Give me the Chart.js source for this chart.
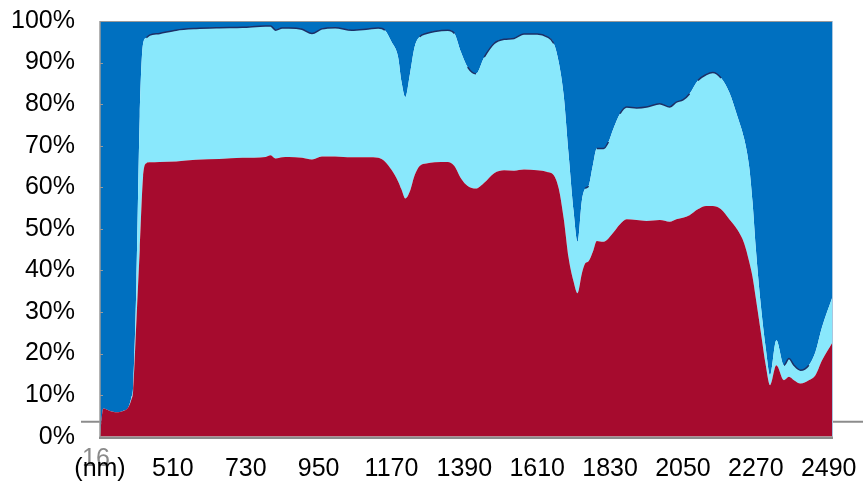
<!DOCTYPE html>
<html>
<head>
<meta charset="utf-8">
<script src="https://cdn.jsdelivr.net/npm/chart.js@4.4.1/dist/chart.umd.min.js"></script>
<style>
  html, body { margin: 0; padding: 0; background: #ffffff; }
  canvas { display: block; }
</style>
</head>
<body>
<canvas id="chart" width="863" height="483"></canvas>
<script>
// Wavelength samples (nm)
const wavelengths = [
  290, 300, 320, 340, 360, 375, 385, 390, 400, 410, 420, 430, 440, 470, 520, 580, 650, 720, 790, 805,
  820, 840, 860, 900, 930, 960, 1000, 1050, 1100, 1130, 1150, 1170, 1190, 1200, 1212, 1225, 1240, 1255, 1275, 1300,
  1340, 1360, 1380, 1400, 1425, 1450, 1480, 1510, 1540, 1570, 1610, 1640, 1660, 1675, 1690, 1705, 1720, 1732, 1745, 1755,
  1765, 1778, 1790, 1810, 1825, 1840, 1860, 1880, 1910, 1940, 1980, 2010, 2030, 2050, 2070, 2095, 2120, 2140, 2165, 2190,
  2215, 2235, 2250, 2260, 2270, 2285, 2300, 2313, 2332, 2355, 2370, 2385, 2405, 2430, 2450, 2470, 2500
];

// Share of each band (%), bottom to top
const band1 = [
  0, 6.8, 6.2, 5.9, 6.2, 7.0, 9.0, 11, 28, 45, 62.5, 65.8, 66.0, 66.1, 66.2, 66.6, 66.8, 67.1, 67.3, 67.7,
  66.9, 67.2, 67.3, 67.1, 66.7, 67.4, 67.4, 67.2, 67.2, 67.1, 66.2, 64.2, 61.4, 59.5, 57.3, 58.9, 62.9, 65.1, 65.7, 66.0,
  66.1, 65.1, 62.1, 60.3, 59.7, 61.1, 63.4, 64.1, 64.0, 64.3, 64.1, 63.7, 62.9, 59.7, 52.5, 42.9, 37.3, 34.5, 39.3, 41.7,
  42.2, 44.5, 47.1, 46.9, 47.7, 49.1, 51.1, 52.3, 52.1, 51.9, 52.1, 51.7, 52.3, 52.7, 53.3, 54.7, 55.5, 55.5, 54.7, 52.3,
  49.7, 46.5, 42.1, 38.5, 33.3, 25.2, 17.2, 12.4, 17.2, 13.6, 14.4, 13.6, 12.8, 13.6, 14.8, 18.4, 22.5
];
const band2 = [
  0, 0, 0, 0, 0, 0, 0.5, 1, 9, 32, 32, 30.2, 30.6, 30.9, 31.6, 31.6, 31.6, 31.4, 31.5, 31.1,
  30.9, 31.1, 31.0, 30.9, 30.3, 30.7, 31.0, 30.6, 30.9, 31.2, 31.6, 30.8, 29.9, 26.0, 24.4, 28.0, 30.9, 31.1, 31.3, 31.5,
  31.7, 31.9, 30.4, 28.6, 27.6, 30.2, 31.2, 31.5, 31.8, 32.6, 32.8, 32.5, 31.7, 30.4, 29.6, 24.8, 16.8, 12.4, 17.6, 18.0,
  18.1, 20.8, 22.2, 22.4, 23.2, 25.0, 26.6, 27.0, 27.0, 27.4, 28.0, 27.6, 28.2, 28.3, 29.2, 31.0, 31.6, 32.1, 31.6, 30.5,
  27.2, 25.1, 22.8, 18.0, 12.0, 6.5, 4.1, 2.4, 6.0, 3.6, 4.4, 3.6, 3.2, 3.6, 5.6, 8.0, 10.8
];
const band3 = [
  100, 93.2, 93.8, 94.1, 93.8, 93.0, 90.5, 88, 63, 23, 5.5, 4.0, 3.4, 3.0, 2.2, 1.8, 1.6, 1.5, 1.2, 1.2,
  2.2, 1.7, 1.7, 2.0, 3.0, 1.9, 1.6, 2.2, 1.9, 1.7, 2.2, 5.0, 8.7, 14.5, 18.3, 13.1, 6.2, 3.8, 3.0, 2.5,
  2.2, 3.0, 7.5, 11.1, 12.7, 8.7, 5.4, 4.4, 4.2, 3.1, 3.1, 3.8, 5.4, 9.9, 17.9, 32.3, 45.9, 53.1, 43.1, 40.3,
  39.7, 34.7, 30.7, 30.7, 29.1, 25.9, 22.3, 20.7, 20.9, 20.7, 19.9, 20.7, 19.5, 19.0, 17.5, 14.3, 12.9, 12.4, 13.7, 17.2,
  23.1, 28.4, 35.1, 43.5, 54.7, 68.3, 78.7, 85.2, 76.8, 82.8, 81.2, 82.8, 84.0, 82.8, 79.6, 73.6, 66.7
];

// Axis ticks
const xTickValues = [290, 510, 730, 950, 1170, 1390, 1610, 1830, 2050, 2270, 2490];
const xTickLabels = ['(nm)', '510', '730', '950', '1170', '1390', '1610', '1830', '2050', '2270', '2490'];
const yTickValues = [0, 10, 20, 30, 40, 50, 60, 70, 80, 90, 100];

const toPoints = arr => wavelengths.map((w, i) => ({ x: w, y: arr[i] }));
// upper edge of the middle band, used for its thin outline
const middleEdge = wavelengths.map((w, i) => ({ x: w, y: band1[i] + band2[i] }));

const FONT = { family: '"Liberation Sans", Arial, sans-serif', size: 25 };
const NAVY = '#1c2f66';

const noScalePadding = s => { s.paddingTop = 0; s.paddingBottom = 0; s.paddingLeft = 0; s.paddingRight = 0; };

// Axis frame, the stray baseline, small inner ticks and the overlapping "16" caption
const framePlugin = {
  id: 'frame',
  beforeDraw(chart) {
    const ctx = chart.ctx;
    ctx.save();
    ctx.font = '25px "Liberation Sans", Arial, sans-serif';
    ctx.fillStyle = '#8a8a8a';
    ctx.textAlign = 'center';
    ctx.textBaseline = 'middle';
    ctx.fillText('16', 96, 459);
    ctx.restore();
  },
  beforeDatasetsDraw(chart) {
    const ctx = chart.ctx;
    const y = chart.scales.y.getPixelForValue(3.6);
    ctx.save();
    ctx.strokeStyle = '#8c8c8c';
    ctx.lineWidth = 2;
    ctx.beginPath();
    ctx.moveTo(81, y);
    ctx.lineTo(863, y);
    ctx.stroke();
    ctx.restore();
  },
  afterDatasetsDraw(chart) {
    const { ctx, chartArea: a } = chart;
    const ys = chart.scales.y;
    ctx.save();
    ctx.strokeStyle = '#9a9a9a';
    ctx.lineWidth = 1;
    ctx.beginPath();
    ctx.moveTo(a.left, a.top + 0.5);
    ctx.lineTo(a.right, a.top + 0.5);
    ctx.stroke();
    ctx.strokeStyle = '#a9c6df';
    ctx.beginPath();
    ctx.moveTo(a.right + 0.5, a.top);
    ctx.lineTo(a.right + 0.5, a.bottom);
    ctx.stroke();
    ctx.strokeStyle = '#9a9a9a';
    ctx.lineWidth = 1.5;
    ctx.beginPath();
    ctx.moveTo(a.left, a.top);
    ctx.lineTo(a.left, a.bottom);
    ctx.stroke();
    ctx.lineWidth = 1;
    yTickValues.forEach(v => {
      const py = Math.round(ys.getPixelForValue(v)) + 0.5;
      ctx.beginPath();
      ctx.moveTo(a.left, py);
      ctx.lineTo(a.left + 3, py);
      ctx.stroke();
    });
    ctx.strokeStyle = '#8c8c8c';
    ctx.lineWidth = 2.5;
    ctx.beginPath();
    ctx.moveTo(a.left - 1, a.bottom + 1);
    ctx.lineTo(a.right + 1, a.bottom + 1);
    ctx.stroke();
    ctx.restore();
  }
};

new Chart(document.getElementById('chart'), {
  type: 'line',
  data: {
    datasets: [
      {
        label: 'Band 1',
        data: toPoints(band1),
        backgroundColor: '#a60b2e',
        borderWidth: 0,
        fill: 'origin',
        pointRadius: 0,
        cubicInterpolationMode: 'monotone'
      },
      {
        label: 'Band 2',
        data: toPoints(band2),
        backgroundColor: '#89e8fc',
        borderWidth: 0,
        fill: '-1',
        pointRadius: 0,
        cubicInterpolationMode: 'monotone'
      },
      {
        label: 'Band 3',
        data: toPoints(band3),
        backgroundColor: '#0070c0',
        borderWidth: 0,
        fill: '-1',
        pointRadius: 0,
        cubicInterpolationMode: 'monotone'
      },
      {
        label: 'Band 2 edge',
        stack: 'edge',
        order: -1,
        data: middleEdge,
        fill: false,
        borderColor: NAVY,
        borderWidth: 1.5,
        pointRadius: 0,
        cubicInterpolationMode: 'monotone',
        segment: {
          borderColor: c => {
            const dx = Math.abs(c.p1.x - c.p0.x) || 0.001;
            const dy = Math.abs(c.p1.y - c.p0.y);
            if (band2[c.p0DataIndex] < 1 || dy / dx > 1.6) return 'rgba(0,0,0,0)';
            return NAVY;
          }
        }
      }
    ]
  },
  options: {
    responsive: false,
    animation: false,
    events: [],
    layout: { padding: { top: 21, right: 31, bottom: 0, left: 0 } },
    plugins: { legend: { display: false }, tooltip: { enabled: false } },
    scales: {
      x: {
        type: 'linear',
        min: 290,
        max: 2500,
        grid: { display: false, drawTicks: false },
        border: { display: false },
        afterBuildTicks: s => { s.ticks = xTickValues.map(v => ({ value: v })); },
        afterFit: s => { s.height = 46.3; noScalePadding(s); },
        ticks: {
          autoSkip: false,
          maxRotation: 0,
          padding: 17,
          color: '#000000',
          font: FONT,
          callback: v => xTickLabels[xTickValues.indexOf(v)]
        }
      },
      y: {
        stacked: true,
        min: 0,
        max: 100,
        grid: { display: false, drawTicks: false },
        border: { display: false },
        afterBuildTicks: s => { s.ticks = yTickValues.map(v => ({ value: v })); },
        afterFit: s => { s.width = 100; noScalePadding(s); },
        ticks: {
          padding: 25,
          color: '#000000',
          font: FONT,
          callback: v => v + '%'
        }
      }
    }
  },
  plugins: [framePlugin]
});
</script>
</body>
</html>
